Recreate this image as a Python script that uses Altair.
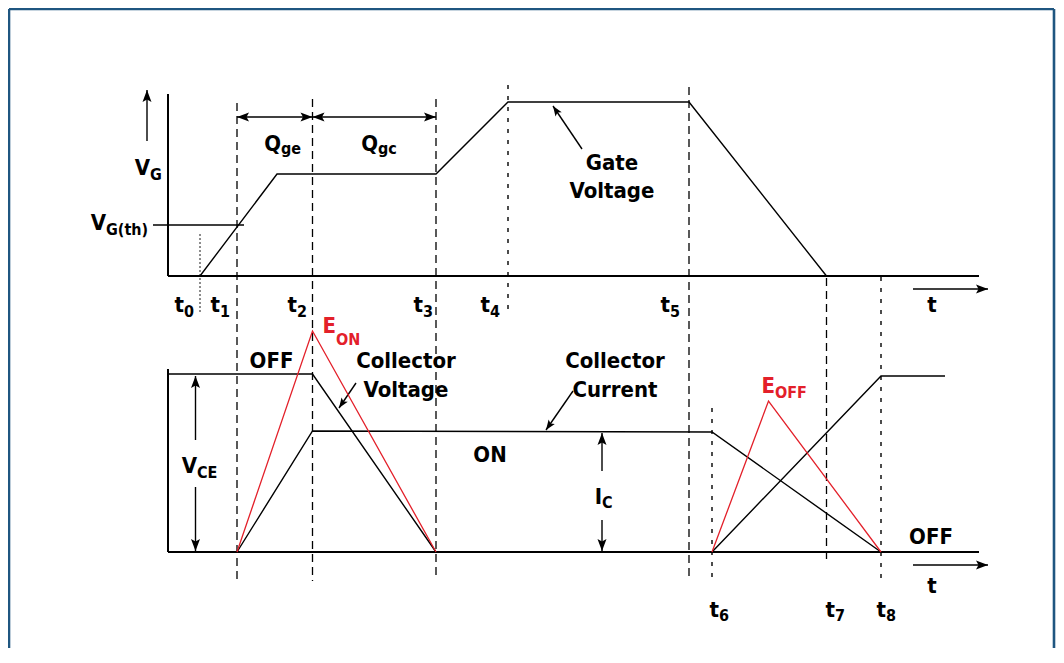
import math
import altair as alt
import pandas as pd

# ---- time instants (horizontal positions, diagram units) ----
T = {"t0": 200, "t1": 237, "t2": 312.5, "t3": 436, "t4": 508,
     "t5": 689, "t6": 712, "t7": 826.5, "t8": 881}
X_AXIS = 168          # origin of both time axes
X_END = 979           # end of the time axes
GATE_KNEE = 277       # gate voltage reaches the Miller plateau
VCE_END = 945         # collector voltage trace ends

# ---- top panel levels (gate voltage) ----
VG_TOP_AXIS = 94
VG_ZERO = 276
VG_TH = 225
VG_PLATEAU = 174
VG_MAX = 102

# ---- bottom panel levels ----
B_TOP_AXIS = 369
B_ZERO = 552
VCE_OFF = 374
IC_ON = 432
EON_PEAK = 331
EOFF_PEAK = 401
E_OFF_PEAK_T = 768.5

# ---- polylines: (name, style, xs, ys) ----
gate_x = [T["t0"], GATE_KNEE, T["t3"], T["t4"], T["t5"], T["t7"]]
gate_y = [VG_ZERO, VG_PLATEAU, VG_PLATEAU, VG_MAX, VG_MAX, VG_ZERO]

vce_on_x = [X_AXIS, T["t2"], T["t3"]]
vce_on_y = [VCE_OFF, VCE_OFF, B_ZERO]
vce_off_x = [T["t6"], T["t8"], VCE_END]
vce_off_y = [B_ZERO, VCE_OFF + 2, VCE_OFF + 2]

ic_x = [T["t1"], T["t2"], T["t6"], T["t8"]]
ic_y = [B_ZERO, IC_ON - 1, IC_ON, B_ZERO]

eon_x = [T["t1"], T["t2"], T["t3"]]
eon_y = [B_ZERO, EON_PEAK, B_ZERO]
eoff_x = [T["t6"], E_OFF_PEAK_T, T["t8"]]
eoff_y = [B_ZERO, EOFF_PEAK, B_ZERO]

polylines = [
    ("top_axis_v", "axis", [X_AXIS, X_AXIS], [VG_TOP_AXIS, VG_ZERO]),
    ("top_axis_h", "axis", [X_AXIS, X_END], [VG_ZERO, VG_ZERO]),
    ("bot_axis_v", "axis", [X_AXIS, X_AXIS], [B_TOP_AXIS, B_ZERO]),
    ("bot_axis_h", "axis", [X_AXIS, X_END], [B_ZERO, B_ZERO]),
    ("gate", "wave", gate_x, gate_y),
    ("vth", "wave", [153, 244], [VG_TH, VG_TH]),
    ("vce_on", "wave", vce_on_x, vce_on_y),
    ("vce_off", "wave", vce_off_x, vce_off_y),
    ("ic", "wave", ic_x, ic_y),
    ("eon", "red", eon_x, eon_y),
    ("eoff", "red", eoff_x, eoff_y),
]

# ---- arrows: (name, x_from, y_from, x_to, y_to, head size) ----
arrows = [
    ("vg_up", 147, 141, 147, 90, 100),
    ("qge_l", 275, 117, T["t1"], 117, 100),
    ("qge_r", 275, 117, T["t2"], 117, 100),
    ("qgc_l", 375, 117, T["t2"], 117, 100),
    ("qgc_r", 375, 117, T["t3"], 117, 100),
    ("gate_ptr", 582, 149, 553, 106, 70),
    ("t_top", 913, 289, 988, 289, 100),
    ("vce_up", 195.5, 440, 195.5, VCE_OFF + 2, 100),
    ("vce_dn", 195.5, 487, 195.5, B_ZERO - 1, 100),
    ("ic_up", 602, 471, 602, IC_ON + 1, 100),
    ("ic_dn", 602, 520, 602, B_ZERO - 1, 100),
    ("cv_ptr", 356, 383, 339, 408, 70),
    ("cc_ptr", 573, 391, 546, 430, 70),
    ("t_bot", 913, 565, 988, 565, 100),
]

# ---- vertical time markers: (x, y_top, y_bottom, style) ----
markers = [
    (T["t0"], 234, 313, "fine"),
    (T["t1"], 103, 581, "long"),
    (T["t2"], 99, 581, "long"),
    (T["t3"], 99, 579, "long"),
    (T["t4"], 85, 315, "short"),
    (T["t5"], 87, 581, "long"),
    (T["t6"], 408, 583, "short"),
    (T["t7"], 278, 561, "long"),
    (T["t8"], 277, 581, "short"),
]

# ---- text: (text, x, y_baseline, size, colour, align) ----
# a main letter is right-aligned and its subscript left-aligned at the same x
BIG, SUB = 22, 16
BLACK, RED = "#000000", "#e3202a"
texts = [
    ("V", 150, 175, BIG, BLACK, "right"), ("G", 150, 180, SUB, BLACK, "left"),
    ("V", 106, 230, BIG, BLACK, "right"), ("G(th)", 106, 235, SUB, BLACK, "left"),
    ("Q", 281, 151, BIG, BLACK, "right"), ("ge", 281, 154, SUB, BLACK, "left"),
    ("Q", 378, 151, BIG, BLACK, "right"), ("gc", 378, 154, SUB, BLACK, "left"),
    ("Gate", 612, 170, BIG, BLACK, "center"), ("Voltage", 612, 198, BIG, BLACK, "center"),
    ("t", 184, 312, BIG, BLACK, "right"), ("0", 184, 317, SUB, BLACK, "left"),
    ("t", 220, 312, BIG, BLACK, "right"), ("1", 220, 317, SUB, BLACK, "left"),
    ("t", 297, 312, BIG, BLACK, "right"), ("2", 297, 317, SUB, BLACK, "left"),
    ("t", 423, 312, BIG, BLACK, "right"), ("3", 423, 317, SUB, BLACK, "left"),
    ("t", 490, 312, BIG, BLACK, "right"), ("4", 490, 317, SUB, BLACK, "left"),
    ("t", 670, 312, BIG, BLACK, "right"), ("5", 670, 317, SUB, BLACK, "left"),
    ("t", 932, 312, BIG, BLACK, "center"),
    ("OFF", 271.5, 368, BIG, BLACK, "center"),
    ("E", 336, 333, BIG, RED, "right"), ("ON", 336, 345, SUB, RED, "left"),
    ("Collector", 406, 368, BIG, BLACK, "center"), ("Voltage", 406, 397, BIG, BLACK, "center"),
    ("ON", 490, 462, BIG, BLACK, "center"),
    ("V", 197, 473, BIG, BLACK, "right"), ("CE", 197, 478, SUB, BLACK, "left"),
    ("Collector", 615, 368, BIG, BLACK, "center"), ("Current", 615, 397, BIG, BLACK, "center"),
    ("I", 602, 504, BIG, BLACK, "right"), ("C", 602, 508, SUB, BLACK, "left"),
    ("E", 775, 393, BIG, RED, "right"), ("OFF", 775, 398, SUB, RED, "left"),
    ("OFF", 931, 544, BIG, BLACK, "center"),
    ("t", 932, 593, BIG, BLACK, "center"),
    ("t", 719, 617, BIG, BLACK, "right"), ("6", 719, 621, SUB, BLACK, "left"),
    ("t", 835, 617, BIG, BLACK, "right"), ("7", 835, 621, SUB, BLACK, "left"),
    ("t", 886, 617, BIG, BLACK, "right"), ("8", 886, 621, SUB, BLACK, "left"),
]

# ---- frame ----
FRAME_L, FRAME_R, FRAME_T, FRAME_B = 9, 1054, 9, 648
FRAME_COLOR = "#1f5680"

# ---------------------------------------------------------------
W, H = 1048, 640
xs = alt.Scale(domain=[8, 8 + W], nice=False, zero=False)
ys = alt.Scale(domain=[8, 8 + H], nice=False, zero=False, reverse=True)
FONT = "Liberation Sans Narrow, DejaVu Sans Condensed, Roboto Condensed, Roboto, sans-serif"

rows = []
for name, style, lx, ly in polylines:
    for i, (a, b) in enumerate(zip(lx, ly)):
        rows.append({"g": name, "style": style, "o": i, "x": a, "y": b})
for name, x0, y0, x1, y1, s in arrows:
    rows.append({"g": name, "style": "wave", "o": 0, "x": x0, "y": y0})
    rows.append({"g": name, "style": "wave", "o": 1, "x": x1, "y": y1})
lines_df = pd.DataFrame(rows)

heads_df = pd.DataFrame([
    {"x": x1, "y": y1, "s": s,
     "ang": (math.degrees(math.atan2(x1 - x0, -(y1 - y0))) + 360) % 360}
    for name, x0, y0, x1, y1, s in arrows
])

marks_df = pd.DataFrame([{"x": x, "y": a, "y2": b, "style": st} for x, a, b, st in markers])
text_df = pd.DataFrame([{"t": t, "x": x, "y": y, "fs": fs, "c": c, "al": al}
                        for t, x, y, fs, c, al in texts])
frame_df = pd.DataFrame([
    {"x": FRAME_L, "x2": FRAME_R, "y": FRAME_T, "y2": FRAME_T},
    {"x": FRAME_L, "x2": FRAME_L, "y": FRAME_T, "y2": FRAME_B},
    {"x": FRAME_R, "x2": FRAME_R, "y": FRAME_T, "y2": FRAME_B},
])

X = alt.X("x:Q", scale=xs, axis=None)
Y = alt.Y("y:Q", scale=ys, axis=None)

layers = []
layers.append(alt.Chart(frame_df).mark_rule(color=FRAME_COLOR, strokeWidth=2.6).encode(
    x=X, x2="x2:Q", y=Y, y2="y2:Q"))

dash_styles = {"long": ([8, 5], 1.3), "short": ([4, 7], 1.4), "fine": ([2, 2], 0.9)}
for st, (dash, w) in dash_styles.items():
    layers.append(alt.Chart(marks_df[marks_df["style"] == st]).mark_rule(
        color="#000000", strokeDash=dash, strokeWidth=w).encode(x=X, y=Y, y2="y2:Q"))

line_styles = {"axis": ("#000000", 2.0), "wave": ("#000000", 1.4), "red": (RED, 1.3)}
for st, (col, w) in line_styles.items():
    layers.append(alt.Chart(lines_df[lines_df["style"] == st]).mark_line(
        color=col, strokeWidth=w, strokeCap="butt", strokeJoin="miter").encode(
        x=X, y=Y, detail="g:N", order="o:Q"))

HEAD = "M0,0L-0.9,2.4L0,1.9L0.9,2.4Z"
layers.append(alt.Chart(heads_df).mark_point(
    shape=HEAD, filled=True, color="#000000", opacity=1, strokeWidth=0).encode(
    x=X, y=Y, angle=alt.Angle("ang:Q", scale=None), size=alt.Size("s:Q", scale=None)))

for al in ["left", "center", "right"]:
    layers.append(alt.Chart(text_df[text_df["al"] == al]).mark_text(
        align=al, baseline="alphabetic", font=FONT, fontWeight="bold").encode(
        x=X, y=Y, text="t:N",
        size=alt.Size("fs:Q", scale=None),
        color=alt.Color("c:N", scale=None)))

chart = alt.layer(*layers).properties(
    width=W, height=H, padding=0, autosize="none"
).configure_view(stroke="transparent")

chart.save("out.html", embed_options={"renderer": "svg", "actions": False})
